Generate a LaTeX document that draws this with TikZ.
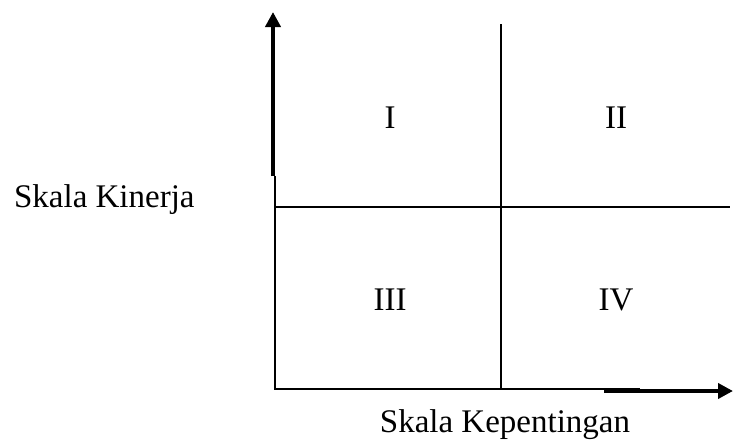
\documentclass[tikz,border=0pt]{standalone}
\usepackage{fontspec}
\setmainfont{Liberation Serif}
\usetikzlibrary{arrows.meta}
\begin{document}
\begin{tikzpicture}[x=0.5pt, y=-0.5pt,
  font=\fontsize{16.5}{19}\selectfont,
  grid line/.style={line width=1pt},
  axis/.style={line width=2pt, -{Triangle[length=7.5pt, width=7.5pt]}},
  lbl/.style={inner sep=0pt}]
\useasboundingbox (0,0) rectangle (733,439);

% corners and line ends
\coordinate (origin) at (275,389);
\coordinate (left top) at (275,176);
\coordinate (mid top) at (501,24);
\coordinate (mid bottom) at (501,389);
\coordinate (mid left) at (275,207);
\coordinate (mid right) at (730,207);
\coordinate (base end) at (640,389);
\coordinate (y from) at (273,176);
\coordinate (y to) at (273,12);
\coordinate (x from) at (604,391);
\coordinate (x to) at (733,391);

\draw[grid line] (left top) -- (origin) -- (base end);
\draw[grid line] (mid top) -- (mid bottom);
\draw[grid line] (mid left) -- (mid right);
\draw[axis] (y from) -- (y to);
\draw[axis] (x from) -- (x to);

\node[lbl] (q1) at (390,118) {I};
\node[lbl] (q2) at (616,118) {II};
\node[lbl] (q3) at (390,300) {III};
\node[lbl] (q4) at (616,300) {IV};
\node[lbl, anchor=east] (ylabel) at (195,200) {Skala Kinerja};
\node[lbl] (xlabel) at (505,425) {Skala Kepentingan};
\end{tikzpicture}
\end{document}
